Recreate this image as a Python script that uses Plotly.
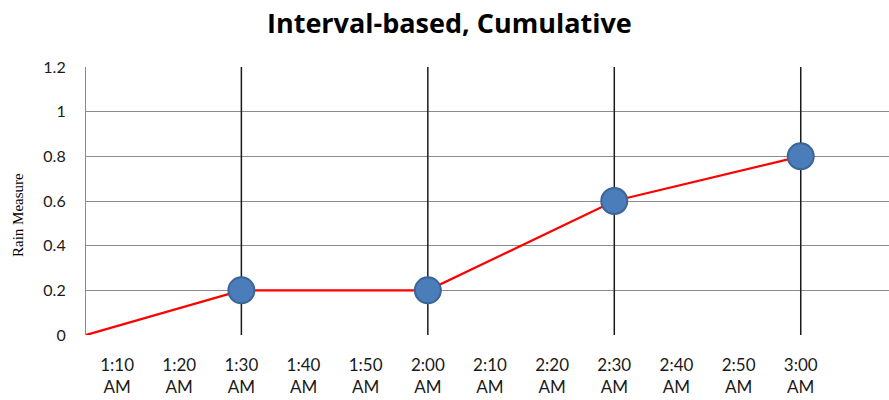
import plotly.graph_objects as go

# Cumulative rain readings (minutes after midnight -> value)
line_times = [65, 90, 120, 150, 180]      # 1:05, 1:30, 2:00, 2:30, 3:00
line_values = [0, 0.2, 0.2, 0.6, 0.8]
point_times = [90, 120, 150, 180]
point_values = [0.2, 0.2, 0.6, 0.8]

tick_minutes = [70, 80, 90, 100, 110, 120, 130, 140, 150, 160, 170, 180]
tick_labels = ["1:10<br>AM", "1:20<br>AM", "1:30<br>AM", "1:40<br>AM",
               "1:50<br>AM", "2:00<br>AM", "2:10<br>AM", "2:20<br>AM",
               "2:30<br>AM", "2:40<br>AM", "2:50<br>AM", "3:00<br>AM"]
y_ticks = [0, 0.2, 0.4, 0.6, 0.8, 1, 1.2]
y_labels = ["0", "0.2", "0.4", "0.6", "0.8", "1", "1.2"]

Y_MAX = 1.2
X_RANGE = [65, 194.2]

# Plot-area geometry in pixels, used to place free text
W, H = 889, 400
L, R, T, B = 86, 0, 67, 65
PW, PH = W - L - R, H - T - B


def px_to_paper(px, py):
    return (px - L) / PW, (H - B - py) / PH


fig = go.Figure()

# Vertical reference lines through each reading
vx, vy = [], []
for t in point_times:
    vx += [t, t, None]
    vy += [-0.01, Y_MAX, None]
fig.add_trace(go.Scatter(x=vx, y=vy, mode="lines",
                         line=dict(color="#1a1a1a", width=1.5),
                         hoverinfo="skip", showlegend=False, cliponaxis=False))

fig.add_trace(go.Scatter(x=line_times, y=line_values, mode="lines",
                         line=dict(color="#ff0000", width=2.2),
                         showlegend=False, cliponaxis=False))

fig.add_trace(go.Scatter(x=point_times, y=point_values, mode="markers",
                         marker=dict(size=26, color="#4a7dba",
                                     line=dict(color="#3a6595", width=2)),
                         showlegend=False, cliponaxis=False))

tx, ty = px_to_paper(449, 23)
yx, yy = px_to_paper(18, 215)

fig.update_layout(
    width=W, height=H,
    margin=dict(l=L, r=R, t=T, b=B),
    paper_bgcolor="white", plot_bgcolor="white",
    font=dict(family="Lato", size=15, color="#1a1a1a"),
    xaxis=dict(range=X_RANGE, tickmode="array", tickvals=tick_minutes,
               ticktext=tick_labels, showgrid=False, zeroline=False,
               showline=False, ticks="", ticklen=0, ticklabelstandoff=18,
               tickfont=dict(family="Lato", size=17, color="#1a1a1a")),
    yaxis=dict(range=[0, Y_MAX], tickmode="array", tickvals=y_ticks,
               ticktext=y_labels, showgrid=True, gridcolor="#8c8c8c",
               gridwidth=1.2, zeroline=False, showline=True,
               linecolor="#8c8c8c", linewidth=1.2, ticks="",
               ticklabelstandoff=16,
               tickfont=dict(family="Lato", size=16, color="#1a1a1a")),
    annotations=[
        dict(text="<b>Interval-based, Cumulative</b>", xref="paper",
             yref="paper", x=tx, y=ty, xanchor="center",
             yanchor="middle", showarrow=False,
             font=dict(family="Open Sans", size=27, color="#000000")),
        dict(text="Rain Measure", xref="paper", yref="paper",
             textangle=-90, x=yx, y=yy, xanchor="center",
             yanchor="middle", showarrow=False,
             font=dict(family="Liberation Serif", size=15, color="#000000")),
    ],
)

fig.write_html("out.html")
